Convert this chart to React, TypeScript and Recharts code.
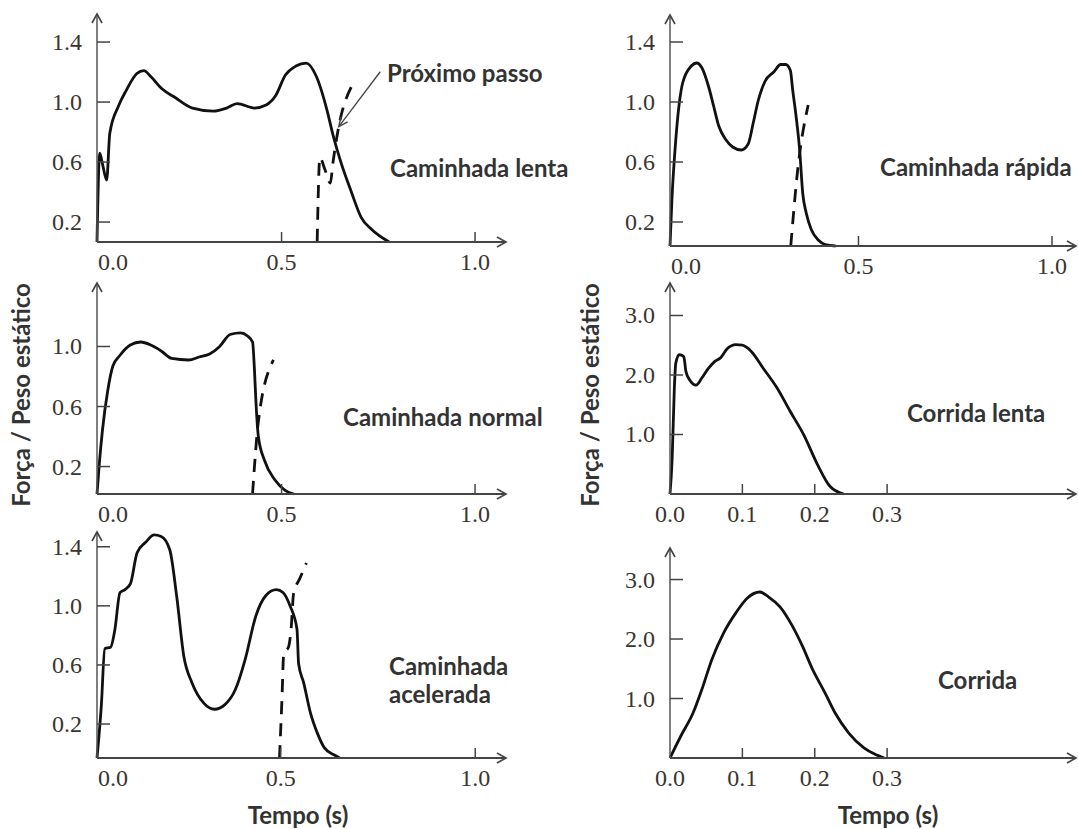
import React from 'react';
import { LineChart, Line, XAxis, YAxis, ReferenceDot, ReferenceLine } from 'recharts';

type Pt = { t: number; f: number };

// ---------- data (tempo em s, força / peso estático) ----------
const caminhadaLenta: Pt[] = [
  { t: 0.023, f: 0.067 }, { t: 0.030, f: 0.66 }, { t: 0.037, f: 0.59 }, { t: 0.048, f: 0.48 },
  { t: 0.056, f: 0.79 }, { t: 0.078, f: 0.97 }, { t: 0.099, f: 1.08 }, { t: 0.126, f: 1.19 },
  { t: 0.144, f: 1.21 }, { t: 0.162, f: 1.17 }, { t: 0.19, f: 1.09 }, { t: 0.225, f: 1.03 },
  { t: 0.27, f: 0.96 }, { t: 0.323, f: 0.94 }, { t: 0.358, f: 0.96 }, { t: 0.385, f: 0.99 },
  { t: 0.43, f: 0.96 }, { t: 0.46, f: 0.98 }, { t: 0.484, f: 1.04 }, { t: 0.51, f: 1.18 },
  { t: 0.537, f: 1.24 }, { t: 0.564, f: 1.26 }, { t: 0.59, f: 1.17 }, { t: 0.617, f: 0.95 },
  { t: 0.634, f: 0.77 }, { t: 0.652, f: 0.61 }, { t: 0.679, f: 0.41 }, { t: 0.706, f: 0.23 },
  { t: 0.733, f: 0.15 }, { t: 0.778, f: 0.067 },
];
const proximoLenta: Pt[] = [
  { t: 0.592, f: 0.067 }, { t: 0.599, f: 0.63 }, { t: 0.612, f: 0.55 }, { t: 0.626, f: 0.46 },
  { t: 0.633, f: 0.6 }, { t: 0.648, f: 0.84 }, { t: 0.68, f: 1.1 },
];
const proximoPassoSeta: Pt[] = [{ t: 0.755, f: 1.202 }, { t: 0.648, f: 0.836 }];

const caminhadaRapida: Pt[] = [
  { t: 0.013, f: 0.04 }, { t: 0.018, f: 0.35 }, { t: 0.028, f: 0.75 }, { t: 0.046, f: 1.13 },
  { t: 0.068, f: 1.24 }, { t: 0.082, f: 1.26 }, { t: 0.095, f: 1.23 }, { t: 0.113, f: 1.10 },
  { t: 0.126, f: 0.97 }, { t: 0.139, f: 0.84 }, { t: 0.157, f: 0.75 }, { t: 0.175, f: 0.70 },
  { t: 0.197, f: 0.68 }, { t: 0.215, f: 0.72 }, { t: 0.228, f: 0.86 }, { t: 0.241, f: 1.01 },
  { t: 0.259, f: 1.14 }, { t: 0.281, f: 1.20 }, { t: 0.299, f: 1.25 }, { t: 0.312, f: 1.25 },
  { t: 0.324, f: 1.21 }, { t: 0.330, f: 1.08 }, { t: 0.339, f: 0.90 }, { t: 0.348, f: 0.68 },
  { t: 0.356, f: 0.39 }, { t: 0.365, f: 0.26 }, { t: 0.378, f: 0.15 }, { t: 0.396, f: 0.08 },
  { t: 0.414, f: 0.05 }, { t: 0.441, f: 0.04 },
];
const proximoRapida: Pt[] = [{ t: 0.325, f: 0.04 }, { t: 0.343, f: 0.55 }, { t: 0.37, f: 0.98 }];

const caminhadaNormal: Pt[] = [
  { t: 0.023, f: 0.017 }, { t: 0.029, f: 0.22 }, { t: 0.037, f: 0.44 }, { t: 0.051, f: 0.71 },
  { t: 0.064, f: 0.87 }, { t: 0.082, f: 0.94 }, { t: 0.109, f: 1.01 }, { t: 0.136, f: 1.03 },
  { t: 0.162, f: 1.01 }, { t: 0.189, f: 0.97 }, { t: 0.216, f: 0.92 }, { t: 0.26, f: 0.91 },
  { t: 0.287, f: 0.93 }, { t: 0.314, f: 0.95 }, { t: 0.34, f: 1.00 }, { t: 0.367, f: 1.08 },
  { t: 0.394, f: 1.09 }, { t: 0.412, f: 1.07 }, { t: 0.425, f: 1.03 }, { t: 0.43, f: 0.84 },
  { t: 0.434, f: 0.62 }, { t: 0.44, f: 0.40 }, { t: 0.456, f: 0.24 }, { t: 0.483, f: 0.11 },
  { t: 0.51, f: 0.04 }, { t: 0.532, f: 0.017 },
];
const proximoNormal: Pt[] = [{ t: 0.425, f: 0.017 }, { t: 0.44, f: 0.5 }, { t: 0.479, f: 0.91 }];

const corridaLenta: Pt[] = [
  { t: 0, f: 0 }, { t: 0.003, f: 0.6 }, { t: 0.006, f: 1.78 }, { t: 0.008, f: 2.2 },
  { t: 0.013, f: 2.34 }, { t: 0.019, f: 2.31 }, { t: 0.022, f: 2.06 }, { t: 0.027, f: 1.92 },
  { t: 0.036, f: 1.83 }, { t: 0.044, f: 1.95 }, { t: 0.053, f: 2.11 }, { t: 0.062, f: 2.23 },
  { t: 0.07, f: 2.29 }, { t: 0.079, f: 2.44 }, { t: 0.091, f: 2.51 }, { t: 0.1, f: 2.50 },
  { t: 0.112, f: 2.40 }, { t: 0.129, f: 2.11 }, { t: 0.148, f: 1.78 }, { t: 0.166, f: 1.39 },
  { t: 0.185, f: 0.99 }, { t: 0.204, f: 0.49 }, { t: 0.221, f: 0.13 }, { t: 0.24, f: 0 },
];

const caminhadaAcelerada: Pt[] = [
  { t: 0.028, f: -0.03 }, { t: 0.039, f: 0.32 }, { t: 0.048, f: 0.71 }, { t: 0.063, f: 0.72 },
  { t: 0.074, f: 0.84 }, { t: 0.087, f: 1.09 }, { t: 0.1, f: 1.11 }, { t: 0.114, f: 1.15 },
  { t: 0.131, f: 1.36 }, { t: 0.153, f: 1.43 }, { t: 0.175, f: 1.48 }, { t: 0.193, f: 1.47 },
  { t: 0.215, f: 1.38 }, { t: 0.233, f: 1.06 }, { t: 0.251, f: 0.66 }, { t: 0.272, f: 0.48 },
  { t: 0.303, f: 0.34 }, { t: 0.33, f: 0.30 }, { t: 0.356, f: 0.33 }, { t: 0.383, f: 0.43 },
  { t: 0.409, f: 0.64 }, { t: 0.436, f: 0.93 }, { t: 0.462, f: 1.07 }, { t: 0.489, f: 1.11 },
  { t: 0.506, f: 1.09 }, { t: 0.524, f: 1.00 }, { t: 0.542, f: 0.84 }, { t: 0.546, f: 0.61 },
  { t: 0.559, f: 0.48 }, { t: 0.577, f: 0.27 }, { t: 0.594, f: 0.14 }, { t: 0.612, f: 0.04 },
  { t: 0.638, f: -0.01 }, { t: 0.652, f: -0.03 },
];
const proximoAcelerada: Pt[] = [
  { t: 0.497, f: -0.03 }, { t: 0.503, f: 0.35 }, { t: 0.508, f: 0.68 }, { t: 0.52, f: 0.72 },
  { t: 0.527, f: 0.85 }, { t: 0.533, f: 1.08 }, { t: 0.55, f: 1.19 }, { t: 0.566, f: 1.29 },
];

const corrida: Pt[] = [
  { t: 0, f: 0 }, { t: 0.015, f: 0.37 }, { t: 0.032, f: 0.76 }, { t: 0.044, f: 1.15 },
  { t: 0.058, f: 1.66 }, { t: 0.074, f: 2.10 }, { t: 0.091, f: 2.44 }, { t: 0.107, f: 2.69 },
  { t: 0.124, f: 2.79 }, { t: 0.136, f: 2.71 }, { t: 0.152, f: 2.54 }, { t: 0.169, f: 2.22 },
  { t: 0.183, f: 1.88 }, { t: 0.197, f: 1.49 }, { t: 0.214, f: 1.10 }, { t: 0.228, f: 0.76 },
  { t: 0.247, f: 0.42 }, { t: 0.268, f: 0.17 }, { t: 0.282, f: 0.07 }, { t: 0.296, f: 0 },
];

const walkXTicks = [0, 0.5, 1.0];
const runXTicks = [0, 0.1, 0.2, 0.3];
const walkYTicks = [0.2, 0.6, 1.0, 1.4];
const normalYTicks = [0.2, 0.6, 1.0];
const runYTicks = [1.0, 2.0, 3.0];

const panelLabels = ['Caminhada lenta', 'Caminhada rápida', 'Caminhada normal', 'Corrida lenta', 'Caminhada\nacelerada', 'Corrida'];
const yTitle = 'Força / Peso estático';
const xTitle = 'Tempo (s)';
const annotation = 'Próximo passo';

// ---------- layout ----------
type PanelCfg = {
  solid: Pt[]; dashed?: Pt[]; xTicks: number[]; yTicks: number[];
  xDomain: [number, number]; yDomain: [number, number];
  plot: { left: number; right: number; top: number; bottom: number };
  firstStart: boolean; arrow?: Pt[];
};

const panels: PanelCfg[] = [
  { solid: caminhadaLenta, dashed: proximoLenta, xTicks: walkXTicks, yTicks: walkYTicks,
    xDomain: [0.023, 1.08], yDomain: [0.067, 1.587], plot: { left: 97, right: 506, top: 14, bottom: 242 }, firstStart: true, arrow: proximoPassoSeta },
  { solid: caminhadaRapida, dashed: proximoRapida, xTicks: walkXTicks, yTicks: walkYTicks,
    xDomain: [0.013, 1.062], yDomain: [0.04, 1.58], plot: { left: 670, right: 1076, top: 15, bottom: 246 }, firstStart: true },
  { solid: caminhadaNormal, dashed: proximoNormal, xTicks: walkXTicks, yTicks: normalYTicks,
    xDomain: [0.023, 1.08], yDomain: [0.017, 1.423], plot: { left: 97, right: 506, top: 283, bottom: 494 }, firstStart: true },
  { solid: corridaLenta, xTicks: runXTicks, yTicks: runYTicks,
    xDomain: [0, 0.561], yDomain: [0, 3.546], plot: { left: 670, right: 1076, top: 283, bottom: 494 }, firstStart: false },
  { solid: caminhadaAcelerada, dashed: proximoAcelerada, xTicks: walkXTicks, yTicks: walkYTicks,
    xDomain: [0.028, 1.079], yDomain: [-0.03, 1.5], plot: { left: 97, right: 506, top: 532, bottom: 758 }, firstStart: true },
  { solid: corrida, xTicks: runXTicks, yTicks: runYTicks,
    xDomain: [0, 0.561], yDomain: [0, 3.53], plot: { left: 670, right: 1076, top: 548, bottom: 758 }, firstStart: false },
];

const labelPos = [
  { left: 390, top: 168 }, { left: 880, top: 167 }, { left: 343, top: 417 },
  { left: 907, top: 413 }, { left: 389, top: 680 }, { left: 938, top: 680 },
];

const SERIF = '"Liberation Serif", "Times New Roman", serif';
const SANS = 'Lato, "Open Sans", sans-serif';
const TICK_COLOR = '#3a3530';
const TEXT_COLOR = '#333';

function Panel({ cfg }: { cfg: PanelCfg }) {
  const YW = 70, MT = 12, MR = 8, XH = 40;
  const { left, right, top, bottom } = cfg.plot;
  const width = right - left + YW + MR;
  const height = bottom - top + MT + XH;
  const [x0, x1] = cfg.xDomain;
  const [y0, y1] = cfg.yDomain;
  const xTicks = cfg.xTicks.map((v) => Math.max(v, x0));

  const xTick = (p: any) => {
    const { x, y, payload } = p;
    const v = payload.value as number;
    const isFirst = v <= x0 + 1e-9;
    const label = (isFirst ? 0 : v).toFixed(1);
    const start = isFirst && cfg.firstStart;
    return (
      <g>
        {!isFirst && <line x1={x} y1={y} x2={x} y2={y - 10} stroke="#444" strokeWidth={1.5} />}
        <text x={start ? x + 1 : x} y={y + 28} textAnchor={start ? 'start' : 'middle'}
          fontFamily={SERIF} fontSize={24} fill={TICK_COLOR}>{label}</text>
      </g>
    );
  };
  const yTick = (p: any) => {
    const { x, y, payload } = p;
    return (
      <g>
        <line x1={x} y1={y} x2={x + 13} y2={y} stroke="#444" strokeWidth={1.5} />
        <text x={x - 15} y={y + 8} textAnchor="end" fontFamily={SERIF} fontSize={24} fill={TICK_COLOR}>
          {(payload.value as number).toFixed(1)}
        </text>
      </g>
    );
  };

  return (
    <div style={{ position: 'absolute', left: left - YW, top: top - MT, width, height }}>
      <LineChart width={width} height={height} margin={{ top: MT, right: MR, bottom: 0, left: 0 }}>
        <XAxis type="number" dataKey="t" domain={[x0, x1]} ticks={xTicks} interval={0} height={XH}
          tickSize={0} tickMargin={0} tickLine={false} axisLine={{ stroke: '#444', strokeWidth: 2 }} tick={xTick} />
        <YAxis type="number" domain={[y0, y1]} ticks={cfg.yTicks} interval={0} width={YW}
          tickSize={0} tickMargin={0} tickLine={false} axisLine={{ stroke: '#555', strokeWidth: 1.5 }} tick={yTick} />
        <Line data={cfg.solid} dataKey="f" type="monotone" stroke="#111" strokeWidth={2.8}
          dot={false} activeDot={false} isAnimationActive={false} />
        {cfg.dashed && (
          <Line data={cfg.dashed} dataKey="f" type="monotone" stroke="#111" strokeWidth={2.8}
            strokeDasharray="13 9" dot={false} activeDot={false} isAnimationActive={false} />
        )}
        {cfg.arrow && (
          <ReferenceLine segment={[{ x: cfg.arrow[0].t, y: cfg.arrow[0].f }, { x: cfg.arrow[1].t, y: cfg.arrow[1].f }]}
            stroke="#444" strokeWidth={1.3} ifOverflow="visible" />
        )}
        {cfg.arrow && (
          <ReferenceDot x={cfg.arrow[1].t} y={cfg.arrow[1].f} r={0} ifOverflow="visible"
            shape={(p: any) => (
              <polyline points={`${p.cx + 8.8},${p.cy - 4.7} ${p.cx},${p.cy} ${p.cx + 2.1},${p.cy - 9.8}`}
                fill="none" stroke="#444" strokeWidth={1.5} />
            )} />
        )}
        <ReferenceDot x={x0} y={y1} r={0} ifOverflow="visible"
          shape={(p: any) => (
            <polyline points={`${p.cx - 5},${p.cy + 9} ${p.cx},${p.cy} ${p.cx + 5},${p.cy + 9}`}
              fill="none" stroke="#444" strokeWidth={1.6} />
          )} />
        <ReferenceDot x={x1} y={y0} r={0} ifOverflow="visible"
          shape={(p: any) => (
            <polyline points={`${p.cx - 9},${p.cy - 5} ${p.cx},${p.cy} ${p.cx - 9},${p.cy + 5}`}
              fill="none" stroke="#444" strokeWidth={1.6} />
          )} />
      </LineChart>
    </div>
  );
}

const textStyle: React.CSSProperties = {
  position: 'absolute', fontFamily: SANS, fontWeight: 700, fontSize: 24, color: TEXT_COLOR,
  whiteSpace: 'pre', lineHeight: '28px',
};

export default function App() {
  return (
    <div style={{ position: 'absolute', left: 0, top: 0, width: 1078, height: 829, background: '#fff', overflow: 'hidden' }}>
      {panels.map((cfg, i) => <Panel key={i} cfg={cfg} />)}
      {panelLabels.map((txt, i) => (
        <div key={i} style={{ ...textStyle, left: labelPos[i].left, top: labelPos[i].top, transform: 'translateY(-50%)' }}>{txt}</div>
      ))}
      <div style={{ ...textStyle, left: 387, top: 73, transform: 'translateY(-50%)' }}>{annotation}</div>
      <div style={{ ...textStyle, left: 298, top: 815, transform: 'translate(-50%,-50%)' }}>{xTitle}</div>
      <div style={{ ...textStyle, left: 888, top: 815, transform: 'translate(-50%,-50%)' }}>{xTitle}</div>
      <div style={{ ...textStyle, left: 21, top: 395, transform: 'translate(-50%,-50%) rotate(-90deg)' }}>{yTitle}</div>
      <div style={{ ...textStyle, left: 590, top: 395, transform: 'translate(-50%,-50%) rotate(-90deg)' }}>{yTitle}</div>
    </div>
  );
}
